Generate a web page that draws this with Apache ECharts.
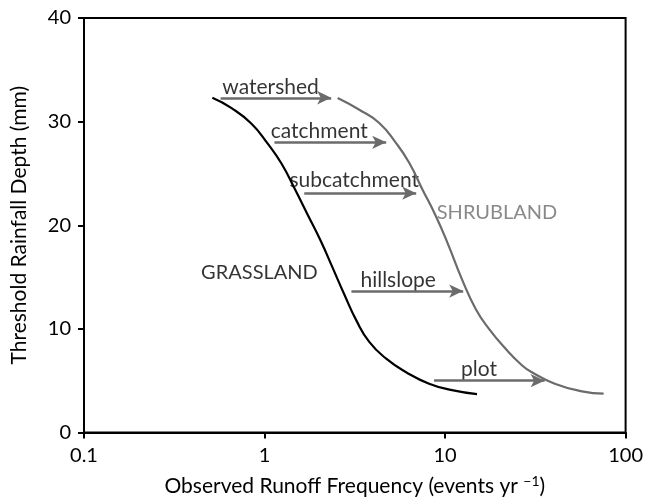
<!DOCTYPE html>
<html>
<head>
<meta charset="utf-8">
<script src="https://cdn.jsdelivr.net/npm/echarts@6/dist/echarts.min.js"></script>
<style>
  html, body { margin: 0; padding: 0; background: #fff; }
  #chart { width: 646px; height: 502px; }
</style>
</head>
<body>
<div id="chart"></div>
<script>
// curves: [runoff frequency, threshold depth]
const grassland = [
  [0.514, 32.3], [0.657, 31.3], [0.847, 29.8], [1.039, 27.9], [1.241, 25.96],
  [1.465, 23.56], [1.728, 21.06], [2.052, 18.46], [2.375, 15.96], [2.767, 13.32],
  [3.224, 10.82], [3.803, 8.75], [4.721, 7.12], [6.088, 5.82], [8.157, 4.71],
  [10.93, 4.09], [15.03, 3.7]
];
const shrubland = [
  [2.541, 32.28], [3.349, 31.15], [4.319, 29.87], [5.342, 27.95], [6.327, 26.03],
  [7.492, 23.46], [8.884, 20.9], [10.3, 18.33], [12.46, 14.71],
  [14.78, 11.92], [17.51, 10.0], [21.65, 8.08], [26.74, 6.47], [30.25, 5.82],
  [40.52, 4.71], [57.36, 3.97], [75.58, 3.75]
];

// scale arrows: [name, start x, end x, y]
const arrows = [
  ["watershed", 0.571, 2.34, 32.3],
  ["catchment", 1.135, 4.72, 28.0],
  ["subcatchment", 1.66, 6.92, 23.1],
  ["hillslope", 3.03, 12.6, 13.65],
  ["plot", 8.69, 35.6, 5.0]
];
// text labels: [text, x, y]
const arrowLabels = [
  ["watershed", 1.08, 33.3],
  ["catchment", 2.01, 29.1],
  ["subcatchment", 3.14, 24.3],
  ["hillslope", 5.5, 14.7],
  ["plot", 15.4, 6.15]
];
const curveLabels = [
  ["GRASSLAND", 0.937, 15.4, "#000"],
  ["SHRUBLAND", 19.4, 21.25, "#6b6b6b"]
];

const xTicks = [0.1, 1, 10, 100];
const yTicks = [0, 10, 20, 30, 40];

const FONT = "Lato";
const GRAY = "#6b6b6b";

const chart = echarts.init(document.getElementById("chart"));

chart.setOption({
  backgroundColor: "#fff",
  animation: false,
  textStyle: { fontFamily: FONT },
  grid: {
    left: 84, right: 19, top: 18, bottom: 68,
    show: true, borderColor: "#000", borderWidth: 2
  },
  xAxis: {
    type: "log",
    logBase: 10,
    min: xTicks[0],
    max: xTicks[xTicks.length - 1],
    name: "Observed Runoff Frequency (events yr {sup|\u22121})",
    nameLocation: "middle",
    nameGap: 42,
    nameTextStyle: {
      fontFamily: FONT, fontSize: 21, color: "#000",
      rich: { sup: { fontFamily: FONT, fontSize: 14, color: "#000", verticalAlign: "top", padding: [0, 0, 10, 0] } }
    },
    axisLine: { lineStyle: { color: "#000", width: 2 } },
    axisTick: { length: 6, lineStyle: { color: "#000", width: 2 } },
    minorTick: { show: false },
    splitLine: { show: false },
    axisLabel: {
      margin: 13, fontSize: 20, color: "#000", fontFamily: FONT,
      formatter: (v) => String(Math.round(v * 10) / 10)
    }
  },
  yAxis: {
    type: "value",
    min: yTicks[0],
    max: yTicks[yTicks.length - 1],
    interval: 10,
    name: "Threshold Rainfall Depth (mm)",
    nameLocation: "middle",
    nameGap: 54,
    nameTextStyle: { fontFamily: FONT, fontSize: 21, color: "#000" },
    axisLine: { show: true, lineStyle: { color: "#000", width: 2 } },
    axisTick: { show: true, length: 6, lineStyle: { color: "#000", width: 2 } },
    splitLine: { show: false },
    axisLabel: { margin: 13, fontSize: 20, color: "#000", fontFamily: FONT }
  },
  series: [
    {
      name: "Grassland",
      type: "line",
      smooth: 0.5,
      showSymbol: false,
      data: grassland,
      lineStyle: { color: "#000", width: 2.2 }
    },
    {
      name: "Shrubland",
      type: "line",
      smooth: 0.5,
      showSymbol: false,
      data: shrubland,
      lineStyle: { color: GRAY, width: 2.2 },
      markLine: {
        silent: true,
        symbol: ["none", "arrow"],
        symbolSize: [10, 14],
        label: { show: false },
        lineStyle: { color: GRAY, width: 2.5, type: "solid" },
        data: arrows.map((a) => [
          { coord: [a[1], a[3]] },
          { coord: [a[2], a[3]] }
        ])
      }
    },
    {
      name: "labels",
      type: "scatter",
      symbolSize: 0,
      silent: true,
      data: arrowLabels.map((l) => ({
        value: [l[1], l[2]],
        label: { show: true, position: "inside", formatter: l[0], fontSize: 21, color: "#000", fontFamily: FONT }
      })).concat(curveLabels.map((l) => ({
        value: [l[1], l[2]],
        label: { show: true, position: "inside", formatter: l[0], fontSize: 20, color: l[3], fontFamily: FONT }
      })))
    }
  ]
});
</script>
</body>
</html>
